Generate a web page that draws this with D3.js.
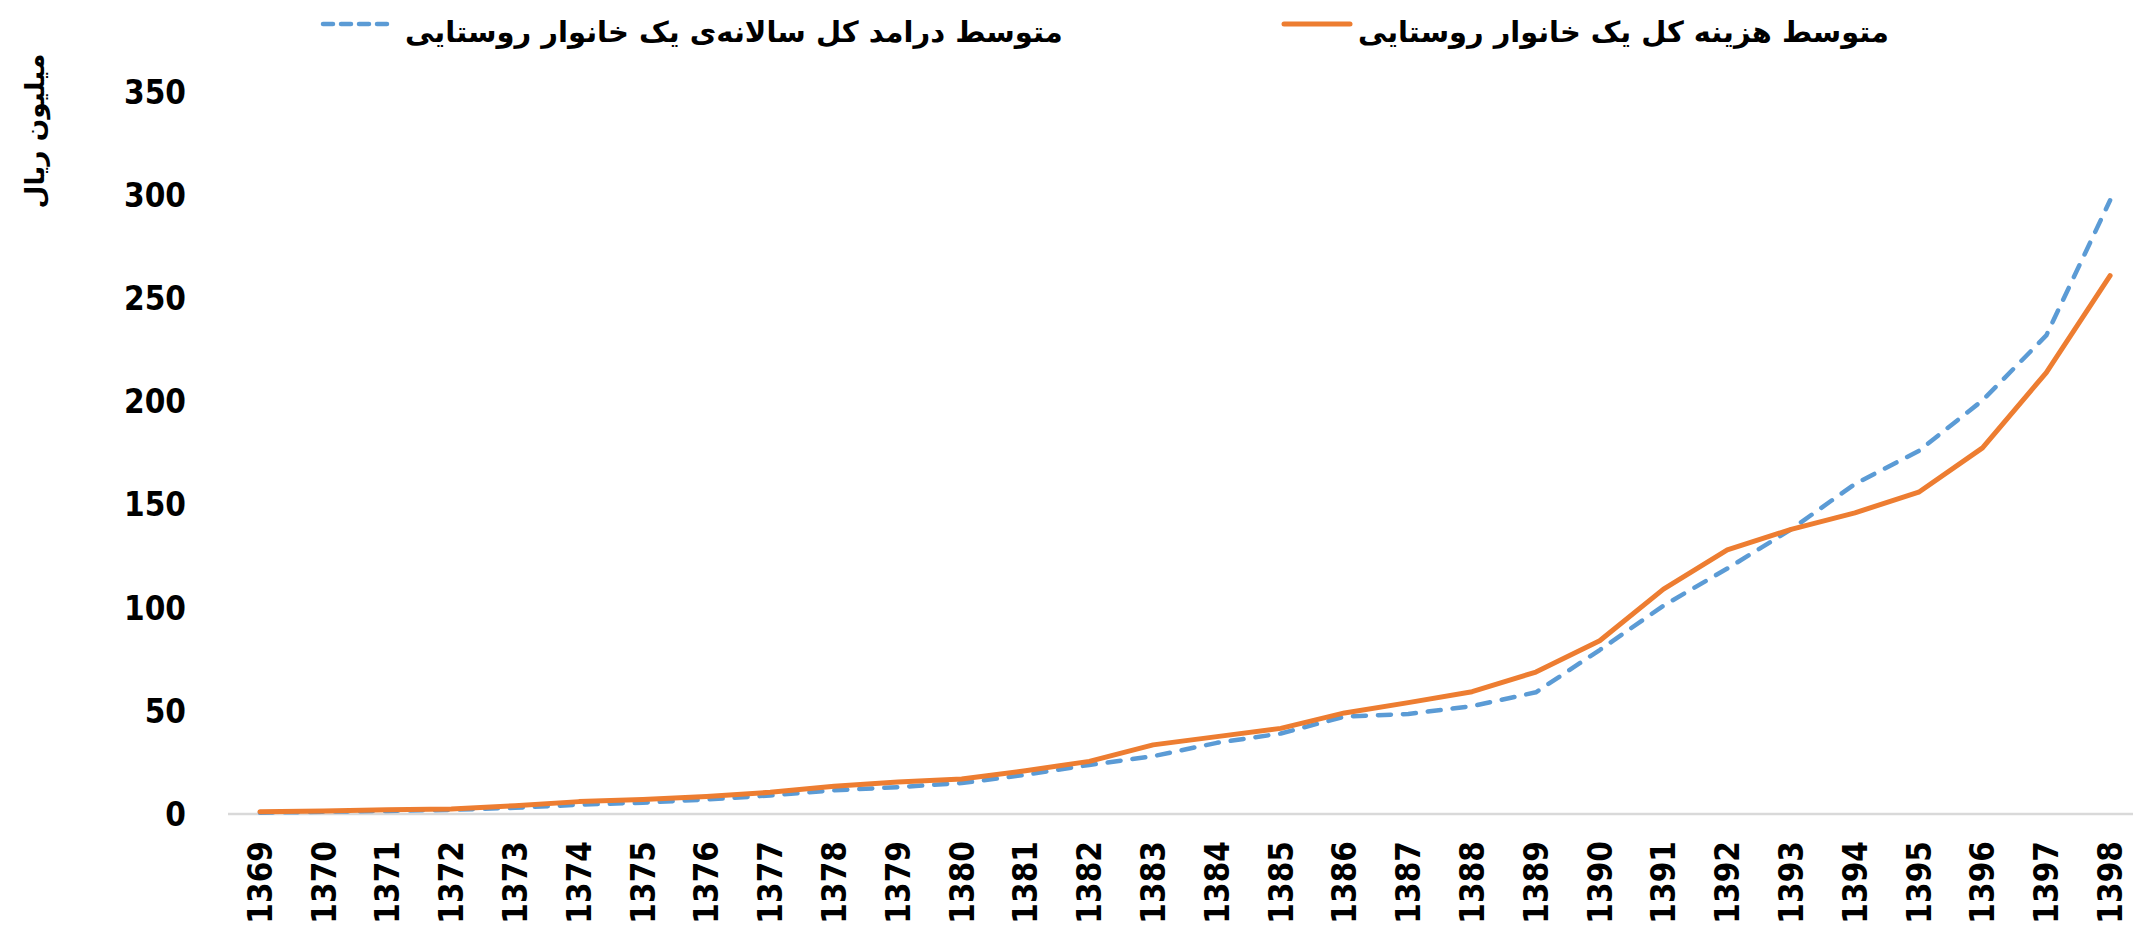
<!DOCTYPE html>
<html lang="fa">
<head>
    <meta charset="UTF-8">
    <title>درامد و هزینه خانوار روستایی</title>
    <script src="https://d3js.org/d3.v7.min.js"></script>
    <style>
        body { margin: 0; background: #fff; }
        svg { display: block; }
        .tick-label { font-family: "DejaVu Sans Condensed", "DejaVu Sans", sans-serif; font-weight: bold; font-size: 33px; fill: #000; }
        .legend-text { font-family: "DejaVu Sans", sans-serif; font-weight: bold; fill: #000; }
        .axis-title { font-family: "DejaVu Sans", sans-serif; font-weight: bold; fill: #000; }
    </style>
</head>
<body>
<svg id="chart" width="2133" height="930"></svg>
<script>
    // categories (solar years)
    const years = ["1369","1370","1371","1372","1373","1374","1375","1376","1377","1378",
                   "1379","1380","1381","1382","1383","1384","1385","1386","1387","1388",
                   "1389","1390","1391","1392","1393","1394","1395","1396","1397","1398"];

    // average total expenditure of a rural household (million rial)
    const expense = [1.1, 1.5, 2, 2.4, 4, 6, 7, 8.5, 10.5, 13.5,
                     15.5, 17, 21, 25.5, 33.5, 37.5, 41.5, 49, 54, 59.3,
                     68.8, 84, 109, 128, 138, 146, 156, 177.5, 214, 261];

    // average annual total income of a rural household (million rial)
    const income = [0.6, 1.1, 1.5, 2, 3, 4.5, 5.5, 7, 9, 11.5,
                    13, 15, 19, 23.8, 28, 34.5, 39, 47.2, 48.5, 52.3,
                    59, 79.5, 101, 119, 138, 160, 176, 200.5, 232, 297.5];

    const yTicks = [0, 50, 100, 150, 200, 250, 300, 350];

    const seriesNames = {
        expense: "متوسط هزینه کل یک خانوار روستایی",
        income: "متوسط درامد کل سالانه\u200cی یک خانوار روستایی"
    };
    const yTitle = "میلیون ریال";

    const svg = d3.select("#chart");

    // plot area
    const x0 = 228, plotBottom = 814, plotTop = 92;
    const step = 63.8;

    const x = d3.scaleBand()
        .domain(years)
        .range([x0, x0 + step * years.length])
        .paddingInner(0).paddingOuter(0);

    const y = d3.scaleLinear()
        .domain([0, 350])
        .range([plotBottom, plotTop]);

    const cx = d => x(d) + x.bandwidth() / 2;

    // y tick labels
    svg.append("g").selectAll("text")
        .data(yTicks)
        .enter().append("text")
        .attr("class", "tick-label")
        .attr("x", 186)
        .attr("y", d => y(d))
        .attr("dy", "0.36em")
        .attr("text-anchor", "end")
        .text(d => d);

    // category axis line
    svg.append("line")
        .attr("x1", x0).attr("x2", x0 + step * years.length)
        .attr("y1", y(0)).attr("y2", y(0))
        .attr("stroke", "#d9d9d9")
        .attr("stroke-width", 2.5);

    // x tick labels, rotated
    svg.append("g").selectAll("text")
        .data(years)
        .enter().append("text")
        .attr("class", "tick-label")
        .attr("text-anchor", "end")
        .attr("dy", "0.36em")
        .attr("transform", d => `translate(${cx(d)},841) rotate(-90)`)
        .text(d => d);

    // lines
    const line = vals => d3.line()
        .x((d, i) => cx(years[i]))
        .y(d => y(d))(vals);

    svg.append("path")
        .attr("d", line(income))
        .attr("fill", "none")
        .attr("stroke", "#5B9BD5")
        .attr("stroke-width", 4.5)
        .attr("stroke-dasharray", "13,12")
        .attr("stroke-linecap", "round")
        .attr("stroke-linejoin", "round");

    svg.append("path")
        .attr("d", line(expense))
        .attr("fill", "none")
        .attr("stroke", "#ED7D31")
        .attr("stroke-width", 5)
        .attr("stroke-linecap", "round")
        .attr("stroke-linejoin", "round");

    // fit a text element's width to a target by adjusting its font size
    function fitWidth(sel, target, base) {
        sel.style("font-size", base + "px");
        const w = sel.node().getComputedTextLength();
        if (w > 0) sel.style("font-size", (base * target / w) + "px");
    }

    // legend
    const legend = svg.append("g");
    legend.append("line")
        .attr("x1", 323).attr("x2", 388).attr("y1", 24).attr("y2", 24)
        .attr("stroke", "#5B9BD5").attr("stroke-width", 4.5)
        .attr("stroke-dasharray", "10,8").attr("stroke-linecap", "round");
    const t1 = legend.append("text")
        .attr("class", "legend-text")
        .attr("x", 405).attr("y", 42)
        .attr("direction", "rtl")
        .attr("text-anchor", "end")
        .text(seriesNames.income);
    fitWidth(t1, 658, 30);

    legend.append("line")
        .attr("x1", 1284).attr("x2", 1350).attr("y1", 24).attr("y2", 24)
        .attr("stroke", "#ED7D31").attr("stroke-width", 5)
        .attr("stroke-linecap", "round");
    const t2 = legend.append("text")
        .attr("class", "legend-text")
        .attr("x", 1358).attr("y", 42)
        .attr("direction", "rtl")
        .attr("text-anchor", "end")
        .text(seriesNames.expense);
    fitWidth(t2, 531, 30);

    // y axis title
    const yt = svg.append("text")
        .attr("class", "axis-title")
        .attr("direction", "rtl")
        .attr("text-anchor", "middle")
        .attr("transform", "translate(44,131) rotate(-90)")
        .text(yTitle);
    fitWidth(yt, 155, 28);
</script>
</body>
</html>
